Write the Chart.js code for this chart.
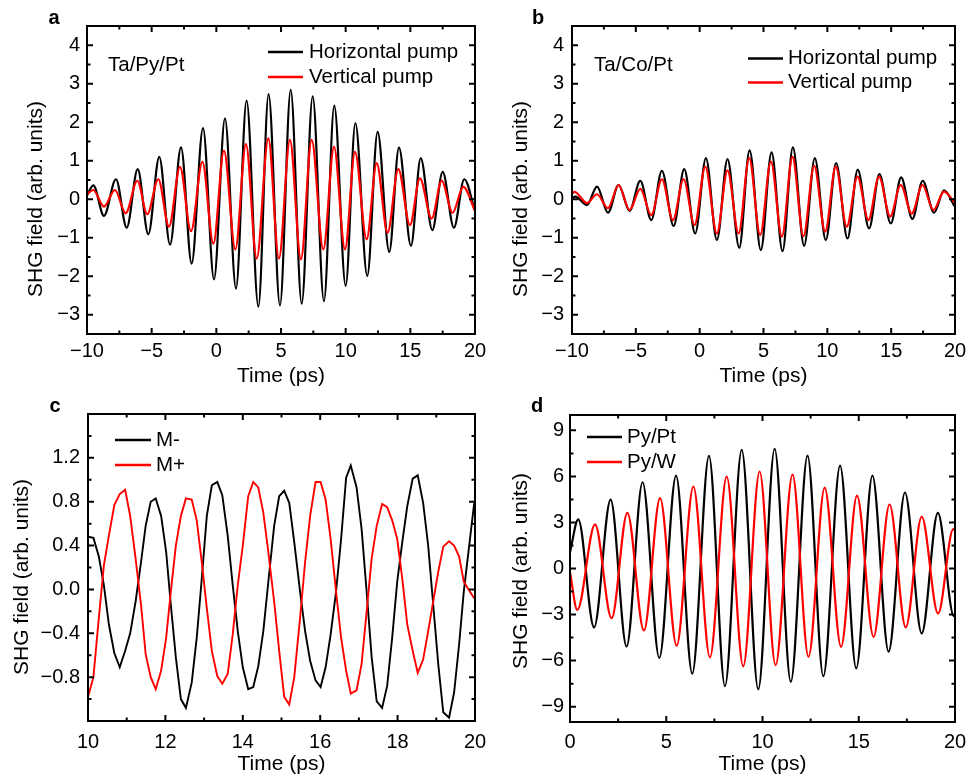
<!DOCTYPE html>
<html>
<head>
<meta charset="utf-8">
<script src="https://cdn.jsdelivr.net/npm/chart.js@4.4.1/dist/chart.umd.min.js"></script>
<style>
  body { margin: 0; background: #fff; }
  #fig { position: relative; width: 969px; height: 774px; }
  .pan { position: absolute; }
</style>
</head>
<body>
<div id="fig">
  <div class="pan" style="left:0;top:0;width:500px;height:387px"><canvas id="pa"></canvas></div>
  <div class="pan" style="left:484px;top:0;width:485px;height:387px"><canvas id="pb"></canvas></div>
  <div class="pan" style="left:0;top:387px;width:500px;height:387px"><canvas id="pc"></canvas></div>
  <div class="pan" style="left:484px;top:387px;width:485px;height:387px"><canvas id="pd"></canvas></div>
</div>
<script>
// ===== DATA (extrema of each trace, ps / arb. units) =====

// a: Ta/Py/Pt
const aHorizTime = [-10, -9.51, -8.69, -7.76, -6.93, -6.08, -5.26, -4.41, -3.58, -2.73, -1.91, -1.03, -0.18, 0.67, 1.52, 2.34, 3.25, 4.04, 4.92, 5.75, 6.60, 7.45, 8.32, 9.12, 10.00, 10.75, 11.67, 12.47, 13.37, 14.12, 15.05, 15.80, 16.70, 17.50, 18.37, 19.17, 20];
const aHorizVal  = [0.10, 0.36, -0.43, 0.52, -0.74, 0.78, -0.91, 1.10, -1.18, 1.35, -1.67, 1.85, -2.08, 2.10, -2.32, 2.56, -2.79, 2.73, -2.76, 2.84, -2.71, 2.67, -2.65, 2.43, -2.25, 1.98, -1.99, 1.75, -1.37, 1.34, -1.21, 1.07, -0.80, 0.71, -0.74, 0.52, -0.30];
const aVertTime  = [-10, -9.51, -8.69, -7.84, -7.01, -6.11, -5.34, -4.49, -3.66, -2.81, -1.96, -1.08, -0.23, 0.59, 1.47, 2.29, 3.12, 4.02, 4.84, 5.69, 6.54, 7.37, 8.27, 9.10, 9.95, 10.72, 11.62, 12.40, 13.24, 14.07, 14.97, 15.74, 16.65, 17.42, 18.27, 19.09, 20];
const aVertVal   = [0.13, 0.24, -0.19, 0.24, -0.36, 0.48, -0.39, 0.52, -0.71, 0.84, -0.83, 0.97, -1.15, 1.26, -1.30, 1.43, -1.54, 1.58, -1.54, 1.54, -1.56, 1.54, -1.30, 1.36, -1.30, 1.23, -1.04, 0.94, -0.87, 0.78, -0.67, 0.54, -0.50, 0.48, -0.35, 0.32, -0.30];

// b: Ta/Co/Pt
const bHorizTime = [-10, -9.74, -8.83, -8.04, -7.18, -6.35, -5.49, -4.65, -3.79, -2.96, -2.04, -1.21, -0.35, 0.49, 1.35, 2.18, 3.10, 3.91, 4.79, 5.63, 6.49, 7.30, 8.18, 9.02, 9.88, 10.69, 11.58, 12.38, 13.27, 14.08, 14.97, 15.78, 16.66, 17.47, 18.36, 19.14, 20];
const bHorizVal  = [0.03, 0.07, -0.15, 0.33, -0.35, 0.37, -0.30, 0.48, -0.54, 0.74, -0.69, 0.78, -0.89, 1.07, -1.06, 1.04, -1.26, 1.27, -1.32, 1.22, -1.35, 1.35, -1.21, 1.07, -1.06, 0.94, -1.02, 0.77, -0.76, 0.65, -0.63, 0.57, -0.51, 0.48, -0.35, 0.23, -0.20];
const bVertTime  = [-10, -9.80, -8.83, -8.04, -7.18, -6.35, -5.49, -4.65, -3.79, -2.96, -2.09, -1.26, -0.40, 0.44, 1.35, 2.18, 3.05, 3.88, 4.74, 5.58, 6.44, 7.27, 8.13, 8.97, 9.83, 10.66, 11.52, 12.36, 13.22, 14.05, 14.92, 15.75, 16.61, 17.45, 18.31, 19.14, 20];
const bVertVal   = [0.14, 0.19, -0.10, 0.13, -0.23, 0.37, -0.28, 0.27, -0.41, 0.52, -0.54, 0.52, -0.67, 0.85, -0.89, 0.75, -0.89, 1.07, -0.93, 0.98, -0.97, 1.10, -0.96, 0.87, -0.84, 0.85, -0.71, 0.59, -0.54, 0.59, -0.45, 0.37, -0.37, 0.37, -0.28, 0.20, -0.10];

// c: M- / M+ (sampled trace, shared time base)
const cTime = [10.00, 10.14, 10.28, 10.41, 10.54, 10.68, 10.82, 10.96, 11.09, 11.23, 11.37, 11.49, 11.62, 11.75, 11.89, 12.02, 12.14, 12.27, 12.40, 12.53,
  12.68, 12.81, 12.94, 13.07, 13.20, 13.34, 13.47, 13.61, 13.74, 13.87, 14.00, 14.14, 14.27, 14.40, 14.53, 14.66, 14.81, 14.94, 15.07, 15.20,
  15.33, 15.48, 15.61, 15.74, 15.88, 16.01, 16.14, 16.27, 16.41, 16.54, 16.67, 16.79, 16.94, 17.07, 17.20, 17.33, 17.46, 17.60, 17.73, 17.86,
  17.99, 18.12, 18.25, 18.39, 18.52, 18.66, 18.79, 18.92, 19.05, 19.18, 19.33, 19.46, 19.59, 19.71, 19.85, 19.98];
const cMinus = [0.48, 0.47, 0.30, 0.04, -0.32, -0.58, -0.71, -0.56, -0.40, -0.11, 0.25, 0.58, 0.80, 0.83, 0.67, 0.34, -0.14, -0.62, -1.00, -1.08,
  -0.85, -0.44, 0.10, 0.67, 0.95, 0.98, 0.86, 0.49, 0.04, -0.38, -0.71, -0.91, -0.89, -0.70, -0.38, 0.07, 0.58, 0.85, 0.90, 0.79,
  0.43, -0.02, -0.38, -0.65, -0.83, -0.89, -0.71, -0.41, -0.02, 0.46, 1.02, 1.13, 0.93, 0.55, -0.02, -0.62, -1.02, -1.08, -0.88, -0.44,
  0.07, 0.43, 0.76, 1.01, 1.04, 0.79, 0.40, -0.14, -0.68, -1.12, -1.17, -0.94, -0.50, -0.02, 0.40, 0.79];
const cPlus = [-0.98, -0.80, -0.26, 0.22, 0.49, 0.77, 0.87, 0.91, 0.67, 0.28, -0.14, -0.59, -0.80, -0.91, -0.74, -0.44, -0.02, 0.40, 0.67, 0.83,
  0.82, 0.63, 0.25, -0.17, -0.56, -0.79, -0.86, -0.77, -0.41, 0.04, 0.40, 0.85, 0.98, 0.93, 0.70, 0.34, -0.11, -0.56, -0.98, -1.05,
  -0.80, -0.26, 0.25, 0.67, 0.98, 0.98, 0.82, 0.46, -0.02, -0.44, -0.74, -0.95, -0.92, -0.68, -0.20, 0.28, 0.58, 0.78, 0.75, 0.63,
  0.46, 0.10, -0.32, -0.56, -0.76, -0.64, -0.38, -0.11, 0.16, 0.39, 0.44, 0.40, 0.30, 0.07, -0.01, -0.08];

// d: Py/Pt, Py/W
const dPtTime = [0, 0.43, 1.25, 2.11, 2.94, 3.77, 4.64, 5.51, 6.35, 7.22, 8.05, 8.92, 9.78, 10.63, 11.47, 12.34, 13.16, 14.03, 14.87, 15.71, 16.55, 17.40, 18.27, 19.11, 19.94, 20];
const dPtVal  = [1.06, 3.20, -3.84, 4.49, -5.08, 5.62, -5.83, 6.05, -6.85, 7.34, -7.67, 7.73, -7.88, 7.80, -7.38, 7.35, -7.02, 6.70, -6.50, 6.05, -5.42, 4.95, -4.23, 3.62, -3.10, -3.0];
const dWTime  = [0, 0.38, 1.30, 2.16, 2.98, 3.84, 4.68, 5.54, 6.41, 7.27, 8.14, 9.00, 9.85, 10.68, 11.56, 12.39, 13.23, 14.08, 14.91, 15.77, 16.60, 17.44, 18.27, 19.12, 19.91, 20];
const dWVal   = [-0.24, -2.70, 2.87, -3.24, 3.63, -4.04, 4.58, -5.03, 5.33, -5.79, 5.98, -6.37, 6.32, -6.29, 6.11, -5.75, 5.27, -5.10, 4.75, -4.45, 4.17, -3.83, 3.37, -2.93, 2.56, 2.50];

// ===== HELPERS =====
const FONT = '"Liberation Sans", Arial, Helvetica, sans-serif';
const MINUS = '\u2212';
const BLACK = '#000000';
const RED = '#ff0000';

function near(v, m) { const k = v / m; return Math.abs(k - Math.round(k)) < 1e-6; }
function intLabel(v) { return (v < -1e-9 ? MINUS : '') + Math.abs(Math.round(v)); }
function decLabel(v) { return (v < -1e-9 ? MINUS : '') + Math.abs(v).toFixed(1); }
function pts(xs, ys) { return xs.map((x, i) => ({ x: x, y: ys[i] })); }

// frame, inward ticks on all four sides, legend, labels
const panelDecor = {
  id: 'panelDecor',
  afterDatasetsDraw(chart, args, o) {
    const { ctx, chartArea: a } = chart;
    const sx = chart.scales.x, sy = chart.scales.y;
    ctx.save();
    ctx.strokeStyle = BLACK;
    ctx.lineWidth = 2;
    ctx.beginPath();
    sx.ticks.forEach(t => {
      const p = sx.getPixelForValue(t.value);
      if (p < a.left + 2 || p > a.right - 2) return;
      const len = t.label !== '' ? 6 : 3.5;
      ctx.moveTo(p, a.bottom); ctx.lineTo(p, a.bottom - len);
      ctx.moveTo(p, a.top); ctx.lineTo(p, a.top + len);
    });
    sy.ticks.forEach(t => {
      const p = sy.getPixelForValue(t.value);
      if (p < a.top + 2 || p > a.bottom - 2) return;
      const len = t.label !== '' ? 6 : 3.5;
      ctx.moveTo(a.left, p); ctx.lineTo(a.left + len, p);
      ctx.moveTo(a.right, p); ctx.lineTo(a.right - len, p);
    });
    ctx.stroke();
    ctx.strokeRect(a.left, a.top, a.right - a.left, a.bottom - a.top);

    // legend
    const lg = o.legend;
    ctx.font = '20.5px ' + FONT;
    ctx.textBaseline = 'middle';
    ctx.textAlign = 'left';
    lg.items.forEach((it, i) => {
      const y = lg.y[i];
      ctx.strokeStyle = it.color;
      ctx.lineWidth = 2.5;
      ctx.beginPath();
      ctx.moveTo(lg.x, y);
      ctx.lineTo(lg.x + lg.len, y);
      ctx.stroke();
      ctx.fillStyle = BLACK;
      ctx.fillText(it.text, lg.x + lg.len + lg.gap, y);
    });
    if (o.note) ctx.fillText(o.note.text, o.note.x, o.note.y);

    // panel letter
    ctx.font = 'bold 20px ' + FONT;
    ctx.textAlign = 'center';
    ctx.fillText(o.letter.text, o.letter.x, o.letter.y);

    // y title
    ctx.font = '21px ' + FONT;
    ctx.translate(o.yTitle.x, o.yTitle.y);
    ctx.rotate(-Math.PI / 2);
    ctx.fillText(o.yTitle.text, 0, 0);
    ctx.restore();
  }
};

function makePanel(id, p) {
  new Chart(document.getElementById(id), {
    type: 'line',
    data: {
      datasets: p.series.map(s => ({
        label: s.label,
        data: s.data,
        borderColor: s.color,
        borderWidth: p.lineWidth,
        pointRadius: 0,
        tension: 0,
        cubicInterpolationMode: p.smooth ? 'monotone' : 'default',
        order: s.order
      }))
    },
    options: {
      responsive: true,
      maintainAspectRatio: false,
      animation: false,
      events: [],
      layout: { padding: { top: p.padTop, right: p.padRight, left: 0, bottom: 0 } },
      plugins: {
        legend: { display: false },
        tooltip: { enabled: false },
        panelDecor: p.decor
      },
      scales: {
        x: {
          type: 'linear',
          min: p.xMin, max: p.xMax,
          grid: { display: false, drawTicks: false },
          border: { display: false },
          ticks: {
            stepSize: p.xStep, autoSkip: false, maxRotation: 0, includeBounds: false,
            padding: p.xPad, color: BLACK, font: { family: FONT, size: 20 },
            callback: v => near(v, p.xMajor) ? intLabel(v) : ''
          },
          title: { display: true, text: 'Time (ps)', color: BLACK, font: { family: FONT, size: 21, lineHeight: 1 }, padding: { top: 0, bottom: p.xTitlePad } },
          afterFit: s => { s.height = p.xH; s.paddingLeft = 0; s.paddingRight = 0; }
        },
        y: {
          type: 'linear',
          min: p.yMin, max: p.yMax,
          grid: { display: false, drawTicks: false },
          border: { display: false },
          ticks: {
            stepSize: p.yStep, autoSkip: false, includeBounds: false,
            padding: p.yPad, color: BLACK, font: { family: FONT, size: 20 },
            callback: v => (near(v, p.yMajor) && !p.yHide.some(h => Math.abs(h - v) < 1e-6)) ? p.yFmt(v) : ''
          },
          afterFit: s => { s.width = p.yW; s.paddingTop = 0; s.paddingBottom = 0; }
        }
      }
    },
    plugins: [panelDecor]
  });
}

const yTitle = 'SHG field (arb. units)';

makePanel('pa', {
  xMin: -10, xMax: 20, xStep: 2.5, xMajor: 5,
  yMin: -3.5, yMax: 4.5, yStep: 0.5, yMajor: 1, yFmt: intLabel, yHide: [],
  yW: 87, xH: 53, padTop: 26, padRight: 25, yPad: 7, xPad: 5, xTitlePad: 0, smooth: true, lineWidth: 2.2,
  series: [
    { label: 'Horizontal pump', data: pts(aHorizTime, aHorizVal), color: BLACK, order: 2 },
    { label: 'Vertical pump', data: pts(aVertTime, aVertVal), color: RED, order: 1 }
  ],
  decor: {
    legend: { x: 268, len: 35, gap: 6, y: [52, 77], items: [{ text: 'Horizontal pump', color: BLACK }, { text: 'Vertical pump', color: RED }] },
    note: { text: 'Ta/Py/Pt', x: 108, y: 65 },
    letter: { text: 'a', x: 54, y: 18 },
    yTitle: { text: yTitle, x: 36, y: 199 }
  }
});

makePanel('pb', {
  xMin: -10, xMax: 20, xStep: 2.5, xMajor: 5,
  yMin: -3.5, yMax: 4.5, yStep: 0.5, yMajor: 1, yFmt: intLabel, yHide: [],
  yW: 88, xH: 53, padTop: 26, padRight: 14, yPad: 8, xPad: 5, xTitlePad: 0, smooth: true, lineWidth: 2.2,
  series: [
    { label: 'Horizontal pump', data: pts(bHorizTime, bHorizVal), color: BLACK, order: 2 },
    { label: 'Vertical pump', data: pts(bVertTime, bVertVal), color: RED, order: 1 }
  ],
  decor: {
    legend: { x: 264, len: 35, gap: 5, y: [58.5, 82.5], items: [{ text: 'Horizontal pump', color: BLACK }, { text: 'Vertical pump', color: RED }] },
    note: { text: 'Ta/Co/Pt', x: 110, y: 65 },
    letter: { text: 'b', x: 54, y: 18 },
    yTitle: { text: yTitle, x: 37, y: 199 }
  }
});

makePanel('pc', {
  xMin: 10, xMax: 20, xStep: 1, xMajor: 2,
  yMin: -1.2, yMax: 1.6, yStep: 0.2, yMajor: 0.4, yFmt: decLabel, yHide: [-1.2, 1.6],
  yW: 88, xH: 53, padTop: 27, padRight: 25, yPad: 8, xPad: 9, xTitlePad: -1, smooth: false, lineWidth: 1.9,
  series: [
    { label: 'M-', data: pts(cTime, cMinus), color: BLACK, order: 2 },
    { label: 'M+', data: pts(cTime, cPlus), color: RED, order: 1 }
  ],
  decor: {
    legend: { x: 115, len: 36, gap: 5, y: [53, 78], items: [{ text: 'M-', color: BLACK }, { text: 'M+', color: RED }] },
    letter: { text: 'c', x: 55, y: 19 },
    yTitle: { text: yTitle, x: 22, y: 190 }
  }
});

makePanel('pd', {
  xMin: 0, xMax: 20, xStep: 2.5, xMajor: 5,
  yMin: -10, yMax: 10, yStep: 1.5, yMajor: 3, yFmt: intLabel, yHide: [],
  yW: 86, xH: 52, padTop: 28, padRight: 14, yPad: 6, xPad: 8, xTitlePad: -1, smooth: true, lineWidth: 2.2,
  series: [
    { label: 'Py/Pt', data: pts(dPtTime, dPtVal), color: BLACK, order: 2 },
    { label: 'Py/W', data: pts(dWTime, dWVal), color: RED, order: 1 }
  ],
  decor: {
    legend: { x: 103, len: 35, gap: 5, y: [50, 75], items: [{ text: 'Py/Pt', color: BLACK }, { text: 'Py/W', color: RED }] },
    letter: { text: 'd', x: 53, y: 19 },
    yTitle: { text: yTitle, x: 37, y: 184 }
  }
});
</script>
</body>
</html>
